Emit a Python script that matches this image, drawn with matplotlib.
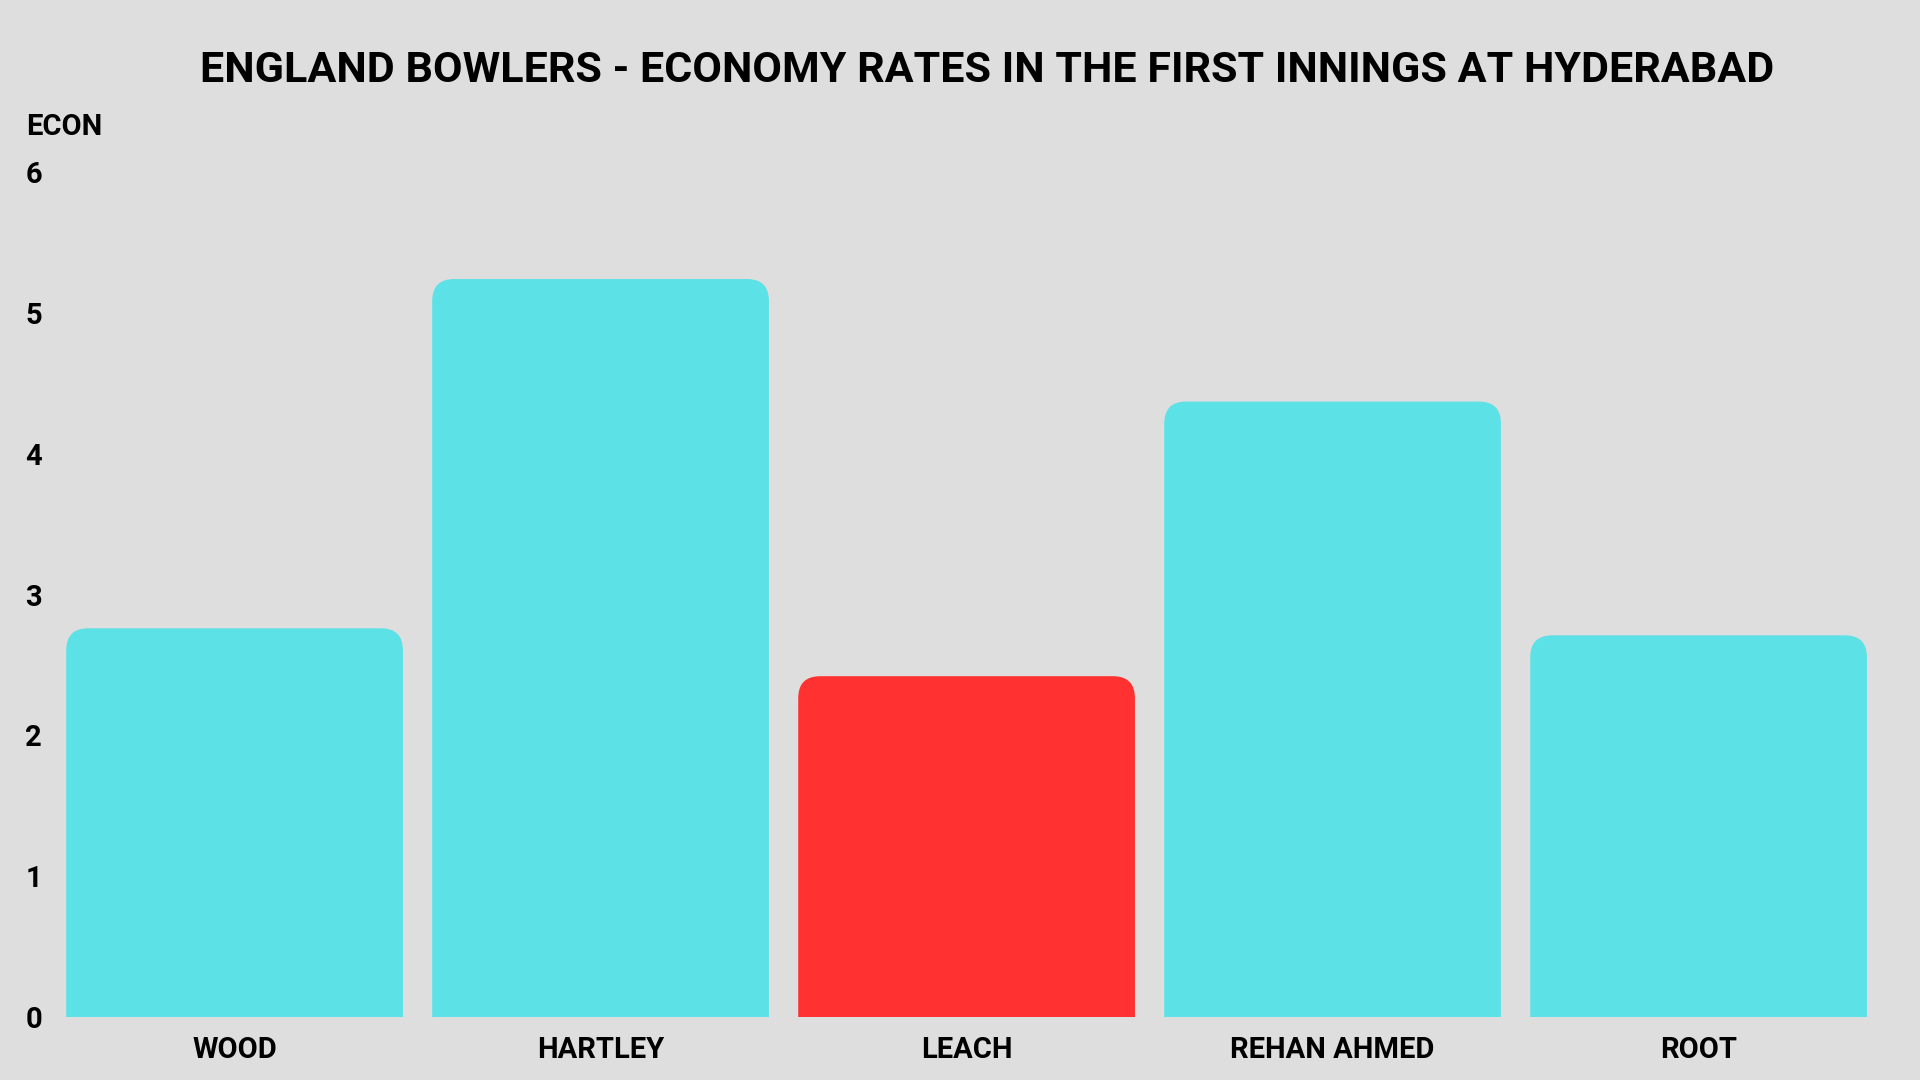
import matplotlib
matplotlib.use('Agg')
import matplotlib.pyplot as plt
from matplotlib.patches import FancyBboxPatch

# data
bowlers = ['WOOD', 'HARTLEY', 'LEACH', 'REHAN AHMED', 'ROOT']
economy = [2.76, 5.24, 2.42, 4.37, 2.71]
colours = ['#5ce1e6', '#5ce1e6', '#ff3131', '#5ce1e6', '#5ce1e6']
yticks = [0, 1, 2, 3, 4, 5, 6]

plt.rcParams['font.family'] = ['Roboto', 'DejaVu Sans']
plt.rcParams['font.weight'] = 'bold'

fig = plt.figure(figsize=(19.2, 10.8), dpi=100, facecolor='#dedede')
ax = fig.add_axes([60 / 1920, 63 / 1080, 1815 / 1920, 845 / 1080])
ax.set_facecolor('none')

x = list(range(len(bowlers)))
bars = ax.bar(x, economy, width=0.92, color=colours)

ax.set_xlim(-0.477, 4.482)
ax.set_ylim(0, 6)

# swap the plain bars for ones with rounded tops
x_px = 1815 / (4.482 + 0.477)
y_px = 845 / 6
radius = 22 / x_px
for b in bars:
    bx, by = b.get_xy()
    w, h = b.get_width(), b.get_height()
    p = FancyBboxPatch((bx, by - 1), w, h + 1,
                       boxstyle='round,pad=0,rounding_size=%f' % radius,
                       mutation_aspect=x_px / y_px,
                       facecolor=b.get_facecolor(), edgecolor='none')
    ax.add_patch(p)
    b.set_visible(False)

for s in ax.spines.values():
    s.set_visible(False)
ax.set_xticks(x)
ax.set_xticklabels(bowlers, fontsize=21, fontweight='bold')
ax.set_yticks(yticks)
ax.set_yticklabels([str(t) for t in yticks], fontsize=21, fontweight='bold')
ax.tick_params(length=0)
ax.tick_params(axis='x', pad=14)
ax.tick_params(axis='y', pad=13)

fig.text(26 / 1920, 1 - 127 / 1080, 'ECON', fontsize=21, fontweight='bold', va='center', ha='left')
fig.text(987 / 1920, 1 - 70 / 1080, 'ENGLAND BOWLERS - ECONOMY RATES IN THE FIRST INNINGS AT HYDERABAD',
         fontsize=31, fontweight='bold', ha='center', va='center')

fig.savefig('out.png', dpi=100, facecolor=fig.get_facecolor())
